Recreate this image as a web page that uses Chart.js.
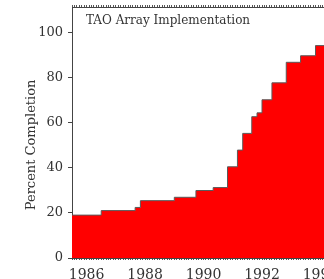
<!DOCTYPE html>
<html>
<head>
<meta charset="utf-8">
<script src="https://cdn.jsdelivr.net/npm/chart.js@4/dist/chart.umd.min.js"></script>
<style>
html,body{margin:0;padding:0;background:#fff;overflow:hidden;width:324px;height:279px;}
canvas{display:block;}
</style>
</head>
<body>
<canvas id="c" width="344" height="279"></canvas>
<script>
// Step start (decimal year) and percent completion from that point on
const stepYears = [1985.5, 1986.50, 1987.66, 1987.84, 1989.00, 1989.74, 1990.33, 1990.82, 1991.16, 1991.34, 1991.65, 1991.83, 1992.00, 1992.34, 1992.83, 1993.32, 1993.83, 1995.0];
const completion = [19.0, 21.0, 22.4, 25.4, 26.9, 29.9, 31.2, 40.4, 47.8, 55.2, 62.6, 64.3, 70.1, 77.6, 86.7, 89.6, 94.1, 94.1];
const xLabelYears = [1986, 1988, 1990, 1992, 1994];
const yTicks = [0, 20, 40, 60, 80, 100];
const chartTitle = 'TAO Array Implementation';
const yTitle = 'Percent Completion';

const X_MIN = 1985.5, X_MAX = 1994.6;
const FONT = '"DejaVu Serif", "Liberation Serif", serif';
const TEXT = '#333';

function monthlyTicks(scale) {
  const t = [];
  for (let k = Math.ceil(X_MIN * 12); k <= Math.floor(X_MAX * 12); k++) t.push({ value: k / 12 });
  scale.ticks = t;
}

const titlePlugin = {
  id: 'innerTitle',
  afterDraw(chart) {
    const ctx = chart.ctx, a = chart.chartArea;
    ctx.save();
    ctx.font = '12px ' + FONT;
    ctx.fillStyle = TEXT;
    ctx.textBaseline = 'middle';
    ctx.textAlign = 'left';
    ctx.fillText(chartTitle, a.left + 14, a.top + 14);
    ctx.restore();
  }
};

new Chart(document.getElementById('c'), {
  type: 'line',
  data: {
    datasets: [{
      data: stepYears.map((x, i) => ({ x: x, y: completion[i] })),
      stepped: 'before',
      fill: 'origin',
      backgroundColor: '#ff0000',
      borderColor: '#5a5a5a',
      borderWidth: 1,
      pointRadius: 0,
      clip: 0
    }]
  },
  options: {
    responsive: false,
    animation: false,
    events: [],
    layout: { padding: { left: 0, top: 4, right: 6, bottom: 0 } },
    plugins: { legend: { display: false }, tooltip: { enabled: false } },
    scales: {
      x: {
        type: 'linear', position: 'bottom', min: X_MIN, max: X_MAX,
        afterBuildTicks: monthlyTicks,
        afterFit: s => { s.height = 21; s.paddingLeft = 0; s.paddingRight = 0; },
        grid: { drawOnChartArea: false, tickLength: 2, color: '#555' },
        border: { color: '#444', width: 1 },
        ticks: {
          autoSkip: false, maxRotation: 0, minRotation: 0, padding: 7,
          color: TEXT, font: { family: FONT, size: 14 },
          callback: v => { const r = Math.round(v); return (Math.abs(v - r) < 1e-6 && xLabelYears.includes(r)) ? String(r) : ''; }
        }
      },
      xTop: {
        type: 'linear', position: 'top', min: X_MIN, max: X_MAX,
        afterBuildTicks: monthlyTicks,
        afterFit: s => { s.height = 3; s.paddingLeft = 0; s.paddingRight = 0; },
        grid: { drawOnChartArea: false, tickLength: 2, color: '#555' },
        border: { color: '#444', width: 1 },
        ticks: { display: false, autoSkip: false }
      },
      y: {
        type: 'linear', min: 0, max: 111.2,
        afterBuildTicks: s => { s.ticks = yTicks.map(v => ({ value: v })); },
        afterFit: s => { s.width = 72; s.paddingTop = 0; s.paddingBottom = 0; },
        grid: { drawOnChartArea: false, tickLength: 4, color: '#444' },
        border: { color: '#444', width: 1 },
        ticks: { padding: 5, color: TEXT, font: { family: FONT, size: 13 } },
        title: { display: true, text: yTitle + '\u00a0\u00a0\u00a0\u00a0\u00a0\u00a0', color: TEXT, font: { family: FONT, size: 13 }, padding: { top: 24, bottom: 0 } }
      }
    }
  },
  plugins: [titlePlugin]
});
</script>
</body>
</html>
